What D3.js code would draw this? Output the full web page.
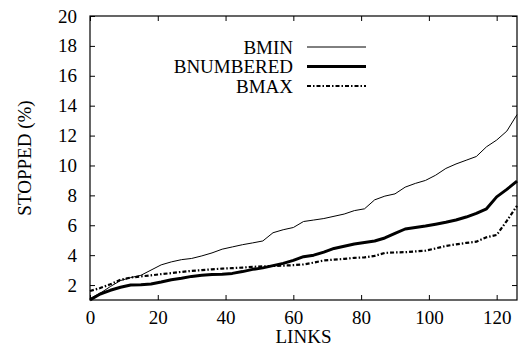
<!DOCTYPE html>
<html><head><meta charset="utf-8">
<script src="https://cdn.jsdelivr.net/npm/d3@7"></script>
<style>body{margin:0;background:#fff}svg{display:block}</style>
</head><body>
<script>
const links = [0,3,6,9,12,15,18,21,24,27,30,33,36,39,42,45,48,51,54,57,60,63,66,69,72,75,78,81,84,87,90,93,96,99,102,105,108,111,114,117,120,123,126];
const bmin = [1.1,1.45,1.9,2.3,2.5,2.65,3.0,3.35,3.55,3.7,3.78,3.95,4.15,4.4,4.55,4.7,4.82,4.95,5.5,5.7,5.85,6.25,6.35,6.45,6.6,6.75,6.98,7.1,7.7,7.95,8.1,8.55,8.8,9.0,9.35,9.8,10.1,10.35,10.6,11.25,11.7,12.3,13.4];
const bnumbered = [1.0,1.4,1.65,1.85,2.0,2.02,2.07,2.2,2.35,2.45,2.58,2.65,2.7,2.73,2.78,2.9,3.05,3.15,3.3,3.45,3.65,3.9,4.0,4.2,4.45,4.6,4.75,4.85,4.95,5.15,5.45,5.75,5.85,5.95,6.07,6.2,6.35,6.55,6.8,7.1,7.9,8.4,8.95];
const bmax = [1.6,1.8,2.05,2.35,2.5,2.58,2.65,2.73,2.8,2.88,2.95,3.0,3.05,3.1,3.13,3.17,3.22,3.25,3.28,3.3,3.33,3.38,3.5,3.65,3.7,3.75,3.82,3.85,3.95,4.15,4.18,4.2,4.25,4.3,4.45,4.62,4.72,4.82,4.9,5.2,5.35,6.3,7.3];
const xTicks = [0,20,40,60,80,100,120];
const yTicks = [2,4,6,8,10,12,14,16,18,20];
const seriesNames = ["BMIN","BNUMBERED","BMAX"];

const FONT = "serif";
const W=518,H=347, L=90, R=517, T=16, B=300;
const svg=d3.select("body").append("svg").attr("width",W).attr("height",H);
const x=d3.scaleLinear().domain([0,126]).range([L,R]);
const y=d3.scaleLinear().domain([1,20]).range([B,T]);

svg.append("rect").attr("x",L).attr("y",T).attr("width",R-L).attr("height",B-T)
  .attr("fill","none").attr("stroke","#000").attr("stroke-width",1.2);

const fs=19;
const xb=svg.append("g").attr("transform",`translate(0,${B})`)
  .call(d3.axisBottom(x).tickValues(xTicks).tickSizeInner(-5).tickSizeOuter(0).tickPadding(11));
const xt=svg.append("g").attr("transform",`translate(0,${T})`)
  .call(d3.axisTop(x).tickValues(xTicks).tickSizeInner(-5).tickSizeOuter(0).tickFormat(""));
const yl=svg.append("g").attr("transform",`translate(${L},0)`)
  .call(d3.axisLeft(y).tickValues(yTicks).tickSizeInner(-5).tickSizeOuter(0).tickPadding(13));
const yr=svg.append("g").attr("transform",`translate(${R},0)`)
  .call(d3.axisRight(y).tickValues(yTicks).tickSizeInner(-5).tickSizeOuter(0).tickFormat(""));
[xb,xt,yl,yr].forEach(g=>{g.attr("font-family",FONT).attr("font-size",fs);g.select(".domain").remove();g.selectAll("line").attr("stroke","#000");g.selectAll("text").attr("fill","#000");});

svg.append("text").attr("x",(L+R)/2).attr("y",343).attr("text-anchor","middle").attr("font-family",FONT).attr("font-size",fs).text("LINKS");
svg.append("text").attr("transform",`translate(31,${(T+B)/2}) rotate(-90)`).attr("text-anchor","middle").attr("font-family",FONT).attr("font-size",fs).text("STOPPED (%)");

const styles=[{w:1,d:null},{w:3,d:null},{w:2.2,d:"4,2,1.5,2"}];
const data=[bmin,bnumbered,bmax];
const line=d3.line().x((d,i)=>x(links[i])).y(d=>y(d));
data.forEach((s,k)=>{
  svg.append("path").datum(s).attr("d",line).attr("fill","none").attr("stroke","#000")
    .attr("stroke-width",styles[k].w).attr("stroke-dasharray",styles[k].d).attr("stroke-linejoin","round");
});

const ly=[47,66.5,86];
seriesNames.forEach((n,k)=>{
  svg.append("text").attr("x",293).attr("y",ly[k]).attr("dy","0.35em").attr("text-anchor","end").attr("font-family",FONT).attr("font-size",fs).text(n);
  svg.append("line").attr("x1",307).attr("x2",366).attr("y1",ly[k]).attr("y2",ly[k]).attr("stroke","#000")
    .attr("stroke-width",styles[k].w).attr("stroke-dasharray",styles[k].d);
});
</script>
</body></html>
